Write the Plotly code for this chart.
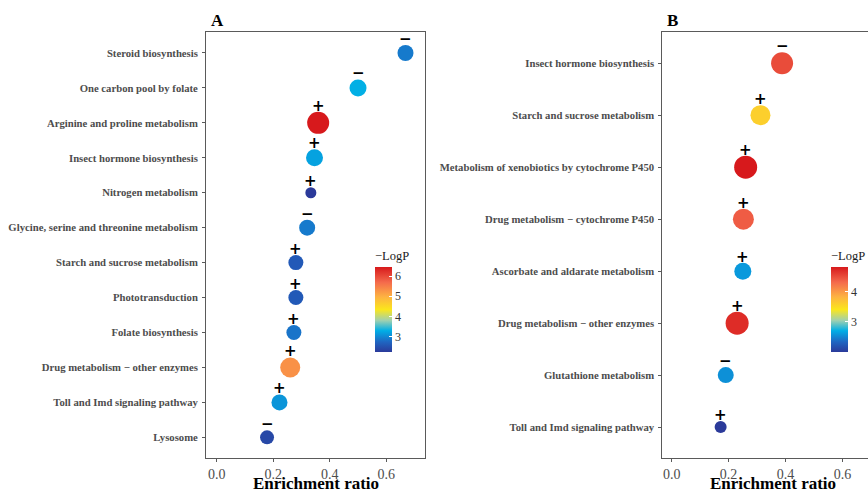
import plotly.graph_objects as go

# ---------------- data ----------------
a_pathways = ["Steroid biosynthesis", "One carbon pool by folate", "Arginine and proline metabolism",
              "Insect hormone biosynthesis", "Nitrogen metabolism", "Glycine, serine and threonine metabolism",
              "Starch and sucrose metabolism", "Phototransduction", "Folate biosynthesis",
              "Drug metabolism \u2212 other enzymes", "Toll and Imd signaling pathway", "Lysosome"]
a_ratio = [0.668, 0.500, 0.359, 0.346, 0.333, 0.320, 0.280, 0.280, 0.273, 0.260, 0.222, 0.178]
a_logp = [2.9, 3.3, 6.45, 3.2, 2.24, 2.9, 2.6, 2.6, 2.85, 5.3, 3.1, 2.4]
a_count = [8, 9, 14, 9, 3, 8, 7, 7, 7, 12, 8, 6]
a_sign = ["\u2212", "\u2212", "+", "+", "+", "\u2212", "+", "+", "+", "+", "+", "\u2212"]

b_pathways = ["Insect hormone biosynthesis", "Starch and sucrose metabolism",
              "Metabolism of xenobiotics by cytochrome P450", "Drug metabolism \u2212 cytochrome P450",
              "Ascorbate and aldarate metabolism", "Drug metabolism \u2212 other enzymes",
              "Glutathione metabolism", "Toll and Imd signaling pathway"]
b_ratio = [0.388, 0.312, 0.260, 0.252, 0.250, 0.230, 0.190, 0.172]
b_logp = [4.5, 3.6, 4.82, 4.4, 2.6, 4.7, 2.55, 2.0]
b_count = [14, 12, 15, 13, 9, 15, 8, 4]
b_sign = ["\u2212", "+", "+", "+", "+", "+", "\u2212", "+"]

a_ticks = [3, 4, 5, 6]
b_ticks = [3, 4]
x_ticks = [0.0, 0.2, 0.4, 0.6]
x_title = "Enrichment ratio"

# ---------------- style ----------------
SERIF = "Liberation Serif"
GRAY = "#4d4d4d"
LINE = "#5a5a5a"
cscale = [[0.0, "#2b3a9a"], [0.12, "#1f66c2"], [0.25, "#00aee6"], [0.37, "#9fd0b0"],
          [0.5, "#fbe61c"], [0.65, "#fdb242"], [0.82, "#f46a4c"], [1.0, "#d7191c"]]


def diam(counts):
    return [8 + c for c in counts]


fig = go.Figure()
annotations = []


def add_panel(cats, ratio, logp, count, sign, xa, ya, cbx, ticks, title_x):
    fig.add_trace(go.Scatter(
        x=ratio, y=cats, mode="markers", xaxis=xa, yaxis=ya,
        marker=dict(size=diam(count), color=logp, colorscale=cscale,
                    cmin=min(logp), cmax=max(logp), opacity=1,
                    line=dict(width=0),
                    colorbar=dict(
                        x=cbx, xanchor="left", xpad=0, ypad=0,
                        y=1 - 300 / 494, yanchor="middle",
                        len=104, lenmode="pixels", thickness=17, thicknessmode="pixels",
                        outlinewidth=0, tickvals=ticks, ticks="inside", tickcolor="white",
                        ticklen=3, tickwidth=1,
                        tickfont=dict(family=SERIF, size=12, color="#333333"),
                        title=dict(text="\u2212LogP", side="top",
                                   font=dict(family=SERIF, size=12.5, color="#1a1a1a")),
                    )),
        cliponaxis=False, showlegend=False, hoverinfo="x+y",
    ))
    for xv, yv, d, s in zip(ratio, cats, diam(count), sign):
        annotations.append(dict(
            x=xv, y=yv, xref=xa, yref=ya, text=s, showarrow=False,
            xanchor="center", yanchor="middle", yshift=d / 2 + 6,
            font=dict(family="DejaVu Sans", size=15, color="black", weight="bold"),
        ))
    # axis title, centred under the panel box
    annotations.append(dict(
        text=x_title, x=title_x, y=0, xref="paper", yref="paper",
        xanchor="center", yanchor="bottom", showarrow=False, borderpad=0,
        font=dict(family=SERIF, size=17, color="black", weight="bold"),
    ))


xdom_a = [206 / 868, 425 / 868]
xdom_b = [662.3 / 868, 1.0]
a_title_center = (xdom_a[0] + xdom_a[1]) / 2
b_title_center = (662.3 + 882.8) / 2 / 868  # full panel box extends past the visible edge

add_panel(a_pathways, a_ratio, a_logp, a_count, a_sign, "x", "y", 375 / 868, a_ticks, a_title_center)
add_panel(b_pathways, b_ratio, b_logp, b_count, b_sign, "x2", "y2", 831 / 868, b_ticks, b_title_center)

annotations += [
    dict(text="A", x=209 / 868, y=1 - 20 / 494, xref="paper", yref="paper",
         xanchor="left", yanchor="middle", showarrow=False,
         font=dict(family=SERIF, size=17, color="black", weight="bold")),
    dict(text="B", x=665 / 868, y=1 - 20 / 494, xref="paper", yref="paper",
         xanchor="left", yanchor="middle", showarrow=False,
         font=dict(family=SERIF, size=17, color="black", weight="bold")),
]

ydom = [1 - 458.3 / 494, 1 - 32 / 494]
xaxis_common = dict(
    tickvals=x_ticks, ticktext=[f"{v:.1f}" for v in x_ticks],
    ticks="outside", ticklen=3, tickcolor=LINE, tickwidth=1,
    tickfont=dict(family=SERIF, size=14, color=GRAY),
    showgrid=False, zeroline=False, showline=True, linecolor=LINE, linewidth=1,
    automargin=False,
)
yaxis_common = dict(
    type="category", ticks="outside", ticklen=3, tickcolor=LINE, tickwidth=1,
    tickfont=dict(family=SERIF, size=10.7, color=GRAY, weight="bold"),
    showgrid=False, zeroline=False, showline=True, linecolor=LINE, linewidth=1,
    ticklabelstandoff=2, automargin=False,
)

fig.update_layout(
    width=868, height=494,
    margin=dict(l=0, r=0, t=0, b=0),
    paper_bgcolor="white", plot_bgcolor="white",
    xaxis=dict(domain=xdom_a, range=[-0.038, 0.737], mirror=True,
               anchor="y", **xaxis_common),
    yaxis=dict(domain=ydom, anchor="x", categoryorder="array", categoryarray=a_pathways,
               range=[len(a_pathways) - 0.4, -0.6], mirror=True, **yaxis_common),
    xaxis2=dict(domain=xdom_b, range=[-0.033, 0.69], mirror=True,
                anchor="y2", **xaxis_common),
    yaxis2=dict(domain=ydom, anchor="x2", categoryorder="array", categoryarray=b_pathways,
                range=[len(b_pathways) - 0.4, -0.6], mirror=False, **yaxis_common),
    annotations=annotations,
)

fig.write_html("out.html")
